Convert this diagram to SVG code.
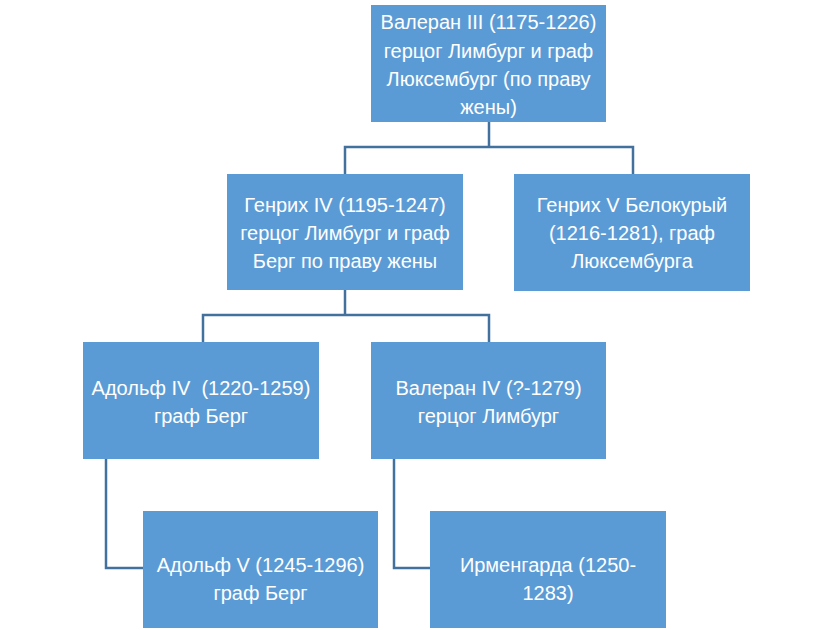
<svg xmlns="http://www.w3.org/2000/svg" width="833" height="630" viewBox="0 0 833 630">
<style>
.box{fill:#5B9BD5;}
.t{fill:#FFFFFF;font-family:"Liberation Sans",Arial,sans-serif;font-size:20px;text-anchor:middle;white-space:pre;}
.c{fill:none;stroke:#41719C;stroke-width:2.5;}
</style>
<rect width="833" height="630" fill="#FFFFFF"/>
<g id="connectors">
<path class="c" d="M489,122 V147 M345,174 V147 H633 V174"/>
<path class="c" d="M345,290 V315 M203,342 V315 H489 V342"/>
<path class="c" d="M106,459 V568 H143"/>
<path class="c" d="M394,459 V568 H430"/>
</g>
<g id="n1">
<rect class="box" x="371" y="5" width="235" height="117"/>
<text class="t" x="488.5" y="29">Валеран III (1175-1226)</text>
<text class="t" x="488.5" y="57.5">герцог Лимбург и граф</text>
<text class="t" x="488.5" y="86">Люксембург (по праву</text>
<text class="t" x="488.5" y="114">жены)</text>
</g>
<g id="n2">
<rect class="box" x="227" y="174" width="236" height="116"/>
<text class="t" x="345" y="212">Генрих IV (1195-1247)</text>
<text class="t" x="345" y="240">герцог Лимбург и граф</text>
<text class="t" x="345" y="268">Берг по праву жены</text>
</g>
<g id="n3">
<rect class="box" x="514" y="174" width="236" height="117"/>
<text class="t" x="632" y="212">Генрих V Белокурый</text>
<text class="t" x="632" y="240">(1216-1281), граф</text>
<text class="t" x="632" y="268">Люксембурга</text>
</g>
<g id="n4">
<rect class="box" x="83" y="342" width="236" height="117"/>
<text class="t" x="201" y="395">Адольф IV  (1220-1259)</text>
<text class="t" x="201" y="423">граф Берг</text>
</g>
<g id="n5">
<rect class="box" x="371" y="342" width="235" height="117"/>
<text class="t" x="488.5" y="395">Валеран IV (?-1279)</text>
<text class="t" x="488.5" y="423">герцог Лимбург</text>
</g>
<g id="n6">
<rect class="box" x="143" y="511" width="235" height="117"/>
<text class="t" x="260.5" y="572">Адольф V (1245-1296)</text>
<text class="t" x="260.5" y="600">граф Берг</text>
</g>
<g id="n7">
<rect class="box" x="430" y="511" width="236" height="117"/>
<text class="t" x="548" y="572">Ирменгарда (1250-</text>
<text class="t" x="548" y="600">1283)</text>
</g>
</svg>
